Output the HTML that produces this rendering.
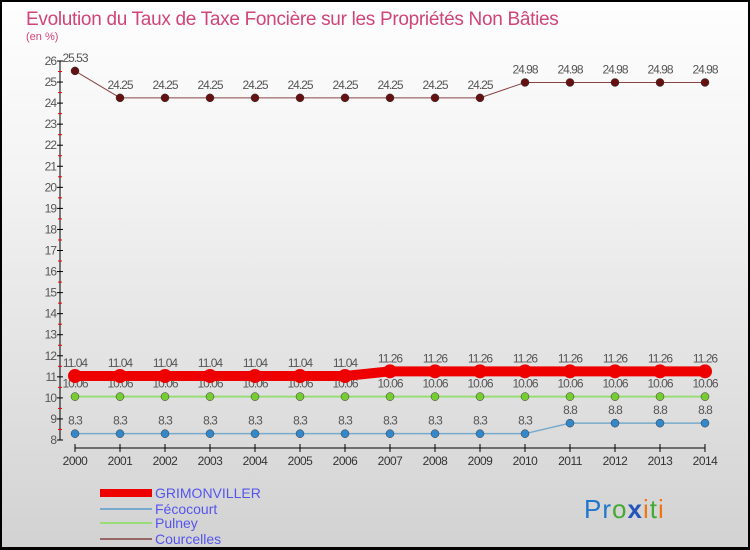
<!DOCTYPE html>
<html><head><meta charset="utf-8"><style>
body{margin:0;}
#wrap{position:relative;width:750px;height:550px;box-sizing:border-box;border:2px solid #000;border-bottom-width:3px;background:linear-gradient(#fefefe,#f4f4f4 30%,#d2d2d2);font-family:"Liberation Sans",sans-serif;overflow:hidden;}
</style></head><body>
<div id="wrap">
<svg id="svg" width="750" height="550" style="position:absolute;left:-2px;top:-2px">
<text x="26" y="25" font-size="19" fill="#d04477" letter-spacing="-0.3">Evolution du Taux de Taxe Foncière sur les Propriétés Non Bâties</text>
<text x="26" y="40" font-size="11" fill="#d04477">(en %)</text>
<g id="axes"></g><g id="series"></g>
<g>
<rect x="100" y="489" width="52" height="8" fill="#ee0000"/>
<text x="155" y="498" font-size="14" fill="#5555ee">GRIMONVILLER</text>
<rect x="100" y="508" width="52" height="2" fill="#77aacc"/>
<text x="155" y="514" font-size="14" fill="#5555ee">Fécocourt</text>
<rect x="100" y="522" width="52" height="2" fill="#99dd77"/>
<text x="155" y="528" font-size="14" fill="#5555ee">Pulney</text>
<rect x="100" y="538" width="52" height="2" fill="#996666"/>
<text x="155" y="544" font-size="14" fill="#5555ee">Courcelles</text>
</g>
<text x="584" y="518" font-size="26" letter-spacing="1"><tspan fill="#2277cc">Pr</tspan><tspan fill="#44aa33">o</tspan><tspan fill="#2255bb" font-weight="bold">x</tspan><tspan fill="#ee7711">i</tspan><tspan fill="#44aa33">t</tspan><tspan fill="#ee7711">i</tspan></text>
</svg></div>
<script>
const years=[2000,2001,2002,2003,2004,2005,2006,2007,2008,2009,2010,2011,2012,2013,2014];
const grimonviller=[11.04,11.04,11.04,11.04,11.04,11.04,11.04,11.26,11.26,11.26,11.26,11.26,11.26,11.26,11.26];
const fecocourt=[8.3,8.3,8.3,8.3,8.3,8.3,8.3,8.3,8.3,8.3,8.3,8.8,8.8,8.8,8.8];
const pulney=[10.06,10.06,10.06,10.06,10.06,10.06,10.06,10.06,10.06,10.06,10.06,10.06,10.06,10.06,10.06];
const courcelles=[25.53,24.25,24.25,24.25,24.25,24.25,24.25,24.25,24.25,24.25,24.98,24.98,24.98,24.98,24.98];
const yTicks=[8,9,10,11,12,13,14,15,16,17,18,19,20,21,22,23,24,25,26];
const NS="http://www.w3.org/2000/svg";
const X=i=>75+i*45, Y=v=>440-(v-8)*(379/18);
function mk(t,a,p){const e=document.createElementNS(NS,t);for(const k in a)e.setAttribute(k,a[k]);p.appendChild(e);return e;}
const ax=document.getElementById('axes'), sr=document.getElementById('series');
const yl=mk('line',{x1:60,y1:Y(26),x2:60,y2:Y(8),stroke:'#000'},ax);


yTicks.forEach(v=>{
 mk('line',{x1:57,x2:63,y1:Y(v),y2:Y(v),stroke:'#000'},ax);
 if(v<26)mk('line',{x1:58,x2:62,y1:Y(v+0.5),y2:Y(v+0.5),stroke:'#e00'},ax);
 const t=mk('text',{x:56,y:Y(v)+4,'font-size':12,'text-anchor':'end',fill:'#555','letter-spacing':'-1'},ax);
 t.textContent=v;
 
 
});
const xl=mk('line',{x1:X(0),y1:448,x2:X(years.length-1),y2:448,stroke:'#000'},ax);


years.forEach((y,i)=>{
 mk('line',{x1:X(i),x2:X(i),y1:444,y2:452,stroke:'#000'},ax);
 const t=mk('text',{x:X(i),y:465,'font-size':12,'text-anchor':'middle',fill:'#333','letter-spacing':'-0.5'},ax);
 t.textContent=y;
 
 
});
function series(name,vals,lc,pc,lw,r){
 const g=mk('g',{},sr);
 
 
 mk('polyline',{points:vals.map((v,i)=>X(i)+','+Y(v)).join(' '),fill:'none',stroke:lc,'stroke-width':lw},g);
 vals.forEach((v,i)=>{
  const c=mk('circle',{cx:X(i),cy:Y(v),r:r,fill:pc,stroke:'#333','stroke-width':r>5?0:0.5},g);
  
  
  const t=mk('text',{x:X(i),y:Y(v)-9,'font-size':12,'text-anchor':'middle',fill:'#555','letter-spacing':'-1'},g);
  t.textContent=String(v);
  
  
 });
}
series('courcelles',courcelles,'#884444','#661111',1,4);
series('fecocourt',fecocourt,'#77aacc','#3388cc',1.5,4);
series('pulney',pulney,'#99dd77','#77cc33',2,4);
series('grimonviller',grimonviller,'#ee0000','#ee0000',10,7);
</script>
</body></html>
